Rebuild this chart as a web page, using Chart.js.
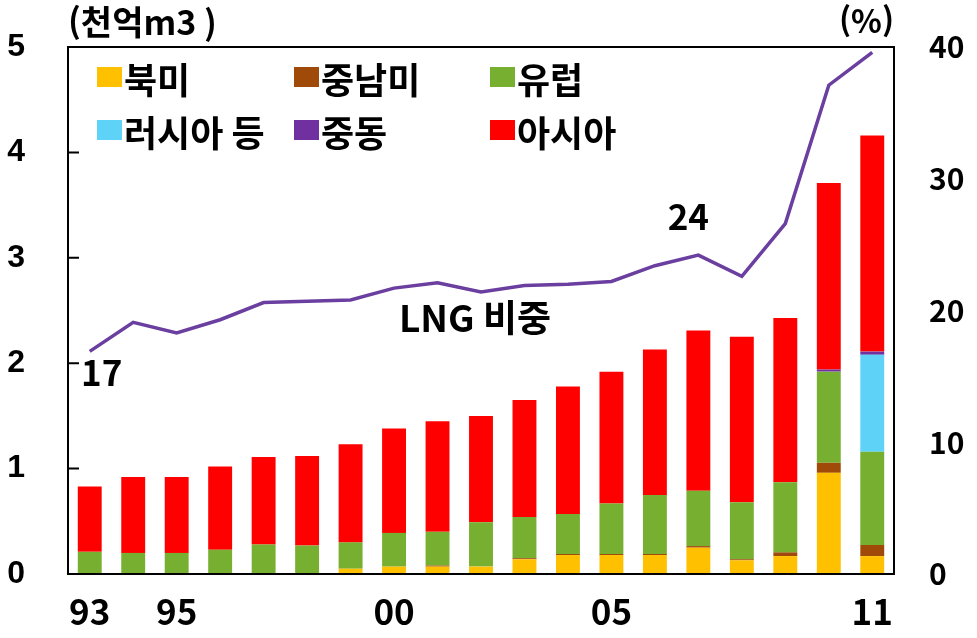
<!DOCTYPE html>
<html lang="ko">
<head>
<meta charset="utf-8">
<title>지역별 LNG 수입과 LNG 비중</title>
<script src="https://cdn.jsdelivr.net/npm/chart.js"></script>
<style>
  html, body { margin: 0; padding: 0; background: #ffffff; }
  #wrap { width: 977px; height: 638px; }
</style>
</head>
<body>
<div id="wrap"><canvas id="chart" width="977" height="638"></canvas></div>
<script>
// 연도 (1993~2011), 축에는 일부만 표시
const years = ['93', '94', '95', '96', '97', '98', '99', '00', '01', '02',
  '03', '04', '05', '06', '07', '08', '09', '10', '11'];
const xTickLabels = ['93', '', '95', '', '', '', '', '00', '', '',
  '', '', '05', '', '', '', '', '', '11'];

// 지역별 LNG 수입 (천억m3), 아래에서 위로 쌓는 순서
const northAmerica = [0, 0, 0, 0, 0, 0, 0.05, 0.07, 0.07, 0.07,
  0.14, 0.18, 0.18, 0.18, 0.25, 0.13, 0.17, 0.96, 0.17];
const centralSouthAmerica = [0, 0, 0, 0, 0, 0, 0, 0, 0.01, 0,
  0.01, 0.01, 0.01, 0.01, 0.015, 0.01, 0.035, 0.095, 0.105];
const europe = [0.21, 0.20, 0.20, 0.23, 0.28, 0.27, 0.25, 0.32, 0.32, 0.42,
  0.39, 0.38, 0.48, 0.56, 0.525, 0.54, 0.665, 0.865, 0.885];
const russiaEtc = [0, 0, 0, 0, 0, 0, 0, 0, 0, 0,
  0, 0, 0, 0, 0, 0, 0, 0, 0.92];
const middleEast = [0, 0, 0, 0, 0, 0, 0, 0, 0, 0,
  0, 0, 0, 0, 0, 0, 0, 0.02, 0.03];
const asia = [0.62, 0.72, 0.72, 0.79, 0.83, 0.85, 0.93, 0.99, 1.05, 1.01,
  1.11, 1.21, 1.25, 1.38, 1.52, 1.57, 1.56, 1.77, 2.05];

// LNG 비중 (%, 우축)
const lngShare = [16.9, 19.1, 18.3, 19.3, 20.6, 20.7, 20.8, 21.7, 22.1, 21.4,
  21.9, 22.0, 22.2, 23.4, 24.2, 22.6, 26.6, 37.1, 39.6];

const leftTicks = [0, 1, 2, 3, 4, 5];
const rightTicks = [0, 10, 20, 30, 40];

const KR_FONT = '"Noto Sans CJK KR", "Noto Sans", sans-serif';

function barSet(label, data, color) {
  return {
    type: 'bar', label, data, backgroundColor: color,
    yAxisID: 'y', stack: 'lng', order: 2,
    categoryPercentage: 1, barPercentage: 0.55,
  };
}

const datasets = [
  barSet('북미', northAmerica, '#FFC000'),
  barSet('중남미', centralSouthAmerica, '#A04A0A'),
  barSet('유럽', europe, '#77AF30'),
  barSet('러시아 등', russiaEtc, '#5FD3F7'),
  barSet('중동', middleEast, '#7030A0'),
  barSet('아시아', asia, '#FF0000'),
  {
    type: 'line', label: 'LNG 비중', data: lngShare, yAxisID: 'y1', order: 1,
    borderColor: '#6B3FA0', borderWidth: 3.5, pointRadius: 0, tension: 0, fill: false,
  },
];

// 테두리 상자 + 좌축 안쪽 눈금
const framePlugin = {
  id: 'frame',
  afterDatasetsDraw(chart) {
    const { ctx, chartArea: a, scales } = chart;
    ctx.save();
    ctx.strokeStyle = '#000';
    ctx.lineWidth = 2;
    ctx.strokeRect(a.left, a.top, a.right - a.left, a.bottom - a.top);
    ctx.beginPath();
    leftTicks.forEach((v) => {
      const y = scales.y.getPixelForValue(v);
      ctx.moveTo(a.left, y);
      ctx.lineTo(a.left + 11, y);
    });
    ctx.stroke();
    ctx.restore();
  },
};

// 범례 (3열 2행, 플롯 안쪽)
const legendPlugin = {
  id: 'gridLegend',
  afterDraw(chart) {
    const { ctx } = chart;
    const cols = [97, 294, 490];
    const rows = [77, 130];
    ctx.save();
    ctx.font = `bold 36px ${KR_FONT}`;
    ctx.textBaseline = 'middle';
    ctx.textAlign = 'left';
    datasets.slice(0, 6).forEach((ds, i) => {
      const x = cols[i % 3];
      const y = rows[Math.floor(i / 3)];
      ctx.fillStyle = ds.backgroundColor;
      ctx.fillRect(x, y - 10, 25, 20);
      ctx.fillStyle = '#000';
      ctx.fillText(ds.label, x + 27, y + 3);
    });
    ctx.restore();
  },
};

// 단위, 선 이름, 값 표시
const notePlugin = {
  id: 'notes',
  afterDraw(chart) {
    const { ctx, chartArea: a, scales } = chart;
    ctx.save();
    ctx.fillStyle = '#000';
    ctx.textBaseline = 'middle';
    ctx.font = `bold 34px ${KR_FONT}`;
    ctx.textAlign = 'left';
    ctx.fillText('(천억m3 )', a.left, 22);
    ctx.textAlign = 'right';
    ctx.font = `bold 32px ${KR_FONT}`;
    ctx.fillText('(%)', a.right, 21);

    ctx.font = `bold 37px ${KR_FONT}`;
    ctx.textAlign = 'center';
    ctx.fillText('LNG 비중', 475, 318);

    ctx.font = `bold 35px ${KR_FONT}`;
    const first = 0;
    const peak = 14;
    ctx.fillText(String(Math.round(lngShare[first])),
      scales.x.getPixelForValue(first) + 12, scales.y1.getPixelForValue(lngShare[first]) + 21);
    ctx.fillText(String(Math.round(lngShare[peak])),
      scales.x.getPixelForValue(peak) - 10, scales.y1.getPixelForValue(lngShare[peak]) - 38);
    ctx.restore();
  },
};

new Chart(document.getElementById('chart'), {
  data: { labels: years, datasets },
  options: {
    responsive: false,
    animation: false,
    layout: { padding: { top: 47, left: 0, right: 0, bottom: 0 } },
    plugins: { legend: { display: false }, tooltip: { enabled: false } },
    scales: {
      x: {
        stacked: true,
        grid: { display: false, drawTicks: false },
        border: { display: false },
        ticks: {
          autoSkip: false, maxRotation: 0, padding: 17, color: '#000',
          font: { family: KR_FONT, size: 35, weight: 'bold' },
          callback: (v, i) => xTickLabels[i],
        },
        afterFit: (s) => { s.height = 64; },
      },
      y: {
        stacked: true, position: 'left', min: 0, max: 5,
        // 눈금선은 그리지 않고 길이만 라벨 간격으로 사용
        grid: { display: false, drawTicks: true, tickLength: 43 },
        border: { display: false },
        afterBuildTicks: (s) => { s.ticks = leftTicks.map((value) => ({ value })); },
        ticks: {
          padding: 0, color: '#000',
          font: { family: '"Liberation Sans", Arial, sans-serif', size: 32, weight: 'bold' },
        },
        afterFit: (s) => { s.width = 68; },
      },
      y1: {
        position: 'right', min: 0, max: 40,
        grid: { display: false, drawTicks: true, tickLength: 35 },
        border: { display: false },
        afterBuildTicks: (s) => { s.ticks = rightTicks.map((value) => ({ value })); },
        ticks: {
          padding: 0, color: '#000',
          font: { family: KR_FONT, size: 30, weight: 'bold' },
        },
        afterFit: (s) => { s.width = 83; },
      },
    },
  },
  plugins: [framePlugin, legendPlugin, notePlugin],
});
</script>
</body>
</html>
